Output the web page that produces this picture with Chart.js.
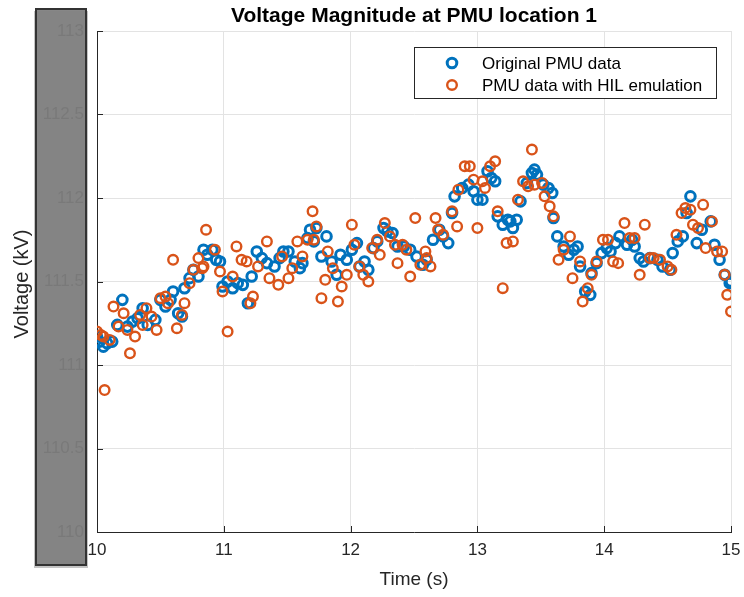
<!DOCTYPE html>
<html>
<head>
<meta charset="utf-8">
<script src="https://cdn.jsdelivr.net/npm/chart.js@4/dist/chart.umd.min.js"></script>
<style>
html,body{margin:0;padding:0;background:#fff;}
#wrap{width:744px;height:597px;}
</style>
</head>
<body>
<div id="wrap"><canvas id="c" width="744" height="597"></canvas></div>
<script>
const chartTitle = "Voltage Magnitude at PMU location 1";
const xAxisTitle = "Time (s)";
const yAxisTitle = "Voltage (kV)";
const seriesNames = ["Original PMU data", "PMU data with HIL emulation"];

const origTime = [10.0,10.02,10.05,10.08,10.12,10.16,10.2,10.24,10.28,10.32,10.36,10.4,10.46,10.5,10.54,10.58,10.6,10.64,10.67,10.69,
10.73,10.76,10.8,10.84,10.87,10.91,10.94,10.97,10.99,11.03,11.07,11.11,11.15,11.19,11.22,11.26,11.3,11.34,11.4,11.44,
11.47,11.51,11.56,11.6,11.62,11.66,11.68,11.71,11.73,11.77,11.81,11.85,11.89,11.92,11.97,12.01,12.05,12.07,12.11,12.14,
12.18,12.21,12.26,12.29,12.33,12.37,12.42,12.47,12.52,12.57,12.6,12.65,12.7,12.73,12.77,12.8,12.82,12.88,12.93,12.97,
13.0,13.04,13.08,13.11,13.14,13.16,13.2,13.24,13.26,13.28,13.31,13.34,13.39,13.43,13.45,13.47,13.52,13.56,13.59,13.6,
13.63,13.68,13.72,13.76,13.79,13.81,13.85,13.89,13.9,13.94,13.98,14.02,14.05,14.09,14.12,14.18,14.22,14.24,14.28,14.31,
14.36,14.42,14.46,14.52,14.54,14.58,14.62,14.65,14.68,14.73,14.77,14.84,14.87,14.91,14.95,14.99,15.0];
const origVoltage = [111.17,111.14,111.11,111.13,111.14,111.24,111.39,111.23,111.26,111.28,111.34,111.24,111.27,111.39,111.35,111.39,111.44,111.31,111.29,111.46,
111.52,111.57,111.53,111.69,111.66,111.69,111.63,111.62,111.47,111.5,111.46,111.49,111.48,111.37,111.53,111.68,111.64,111.61,111.59,111.64,
111.68,111.68,111.62,111.58,111.61,111.76,111.81,111.74,111.82,111.65,111.77,111.62,111.54,111.66,111.63,111.69,111.73,111.59,111.62,111.57,
111.7,111.74,111.82,111.8,111.79,111.71,111.71,111.69,111.65,111.6,111.63,111.75,111.81,111.77,111.73,111.91,112.01,112.06,112.08,112.04,
111.99,111.99,112.16,112.12,112.1,111.89,111.84,111.87,111.86,111.82,111.87,111.98,112.09,112.15,112.17,112.14,112.08,112.06,112.03,111.88,
111.77,111.71,111.66,111.69,111.71,111.59,111.44,111.42,111.55,111.61,111.67,111.7,111.68,111.73,111.77,111.72,111.75,111.71,111.64,111.62,
111.64,111.63,111.59,111.57,111.67,111.74,111.77,111.91,112.01,111.73,111.81,111.86,111.72,111.63,111.54,111.49,111.5];

const hilTime = [10.0,10.03,10.05,10.06,10.1,10.13,10.17,10.21,10.24,10.26,10.3,10.34,10.36,10.39,10.43,10.47,10.5,10.54,10.56,10.6,
10.63,10.67,10.69,10.73,10.76,10.8,10.83,10.84,10.86,10.93,10.97,10.99,11.03,11.07,11.1,11.14,11.18,11.21,11.23,11.27,
11.34,11.36,11.43,11.46,11.51,11.54,11.58,11.62,11.66,11.7,11.71,11.73,11.77,11.8,11.82,11.86,11.9,11.93,11.97,12.01,
12.03,12.07,12.1,12.14,12.17,12.21,12.23,12.27,12.31,12.35,12.37,12.41,12.44,12.47,12.51,12.55,12.59,12.6,12.63,12.67,
12.69,12.73,12.8,12.84,12.85,12.9,12.94,12.97,13.0,13.04,13.06,13.1,13.14,13.16,13.2,13.23,13.28,13.32,13.36,13.4,
13.43,13.45,13.51,13.53,13.57,13.6,13.64,13.68,13.73,13.75,13.81,13.83,13.87,13.9,13.94,13.99,14.03,14.07,14.11,14.16,
14.2,14.24,14.28,14.32,14.36,14.39,14.44,14.5,14.53,14.57,14.61,14.64,14.68,14.7,14.74,14.78,14.8,14.85,14.89,14.93,
14.95,14.97,15.0];
const hilVoltage = [111.2,111.18,111.17,110.85,111.15,111.35,111.23,111.31,111.21,111.07,111.17,111.3,111.24,111.34,111.29,111.21,111.4,111.41,111.37,111.63,
111.22,111.3,111.37,111.49,111.57,111.64,111.58,111.59,111.81,111.69,111.56,111.44,111.2,111.53,111.71,111.63,111.62,111.37,111.41,111.59,
111.74,111.52,111.48,111.65,111.52,111.58,111.74,111.65,111.75,111.92,111.75,111.83,111.4,111.51,111.68,111.58,111.38,111.47,111.54,111.84,
111.72,111.59,111.54,111.5,111.7,111.75,111.66,111.85,111.77,111.72,111.61,111.72,111.69,111.53,111.88,111.6,111.68,111.64,111.59,111.88,
111.81,111.78,111.92,111.83,112.05,112.19,112.19,112.11,111.82,112.1,112.06,112.19,112.22,111.92,111.46,111.73,111.74,111.99,112.1,112.07,
112.29,112.08,112.09,112.01,111.95,111.89,111.63,111.69,111.77,111.52,111.62,111.38,111.46,111.54,111.62,111.75,111.75,111.62,111.61,111.85,
111.76,111.76,111.54,111.84,111.64,111.64,111.63,111.59,111.57,111.78,111.91,111.94,111.93,111.84,111.82,111.96,111.7,111.86,111.68,111.68,
111.54,111.42,111.32];

const xMin = 10, xMax = 15, xStep = 1;
const yMin = 110, yMax = 113, yStep = 0.5;

const blue = "#0072BD", orange = "#D95319";
const FONT = "'Liberation Sans', Arial, Helvetica, sans-serif";

function pts(t, v){ return t.map((x,i)=>({x:x, y:v[i]})); }

const overlay = {
  id: 'overlay',
  beforeDatasetsDraw(chart){
    const ctx = chart.ctx;
    const xs = chart.scales.x, ys = chart.scales.y;
    const a = chart.chartArea;
    ctx.save();
    ctx.strokeStyle = '#262626'; ctx.lineWidth = 1;
    ctx.beginPath();
    xs.ticks.forEach(t=>{ const px = Math.round(xs.getPixelForValue(t.value))+0.5; ctx.moveTo(px, a.bottom); ctx.lineTo(px, a.bottom-6); });
    ys.ticks.forEach(t=>{ const py = Math.round(ys.getPixelForValue(t.value))+0.5; ctx.moveTo(a.left, py); ctx.lineTo(a.left+6, py); });
    ctx.stroke();
    // grey box over y tick labels
    ctx.fillStyle = 'rgba(60,60,60,0.3)';
    ctx.fillRect(34, 11, 54, 557);
    ctx.fillStyle = 'rgba(128,128,128,0.94)';
    ctx.fillRect(36, 9, 50, 556);
    ctx.strokeStyle = '#333333'; ctx.lineWidth = 2;
    ctx.strokeRect(36, 9, 50, 556);
    ctx.restore();
  },
  afterDraw(chart){
    const ctx = chart.ctx;
    const a = chart.chartArea;
    ctx.save();
    ctx.fillStyle = '#000';
    ctx.textAlign = 'center'; ctx.textBaseline = 'middle';
    ctx.font = "bold 21px " + FONT;
    ctx.fillText(chartTitle, (a.left+a.right)/2, 16);
    ctx.fillStyle = '#262626';
    ctx.font = "19px " + FONT;
    ctx.fillText(xAxisTitle, (a.left+a.right)/2, 580);
    ctx.save();
    ctx.translate(22, 284); ctx.rotate(-Math.PI/2);
    ctx.font = "20px " + FONT;
    ctx.fillText(yAxisTitle, 0, 0);
    ctx.restore();
    // legend
    const lx = 414, ly = 47, lw = 302, lh = 51;
    ctx.fillStyle = '#fff'; ctx.fillRect(lx, ly, lw, lh);
    ctx.strokeStyle = '#262626'; ctx.lineWidth = 1;
    ctx.strokeRect(lx+0.5, ly+0.5, lw, lh);
    const rows = [[seriesNames[0], blue, 3, 63],[seriesNames[1], orange, 2.4, 85]];
    rows.forEach(r=>{
      ctx.beginPath(); ctx.strokeStyle = r[1]; ctx.lineWidth = r[2];
      ctx.arc(452, r[3], 4.8, 0, Math.PI*2); ctx.stroke();
      ctx.fillStyle = '#000'; ctx.textAlign = 'left'; ctx.textBaseline='middle';
      ctx.font = "17px " + FONT;
      ctx.fillText(r[0], 482, r[3]+1);
    });
    ctx.restore();
  }
};

new Chart(document.getElementById('c'), {
  type: 'scatter',
  data: {
    datasets: [
      { label: seriesNames[0], data: pts(origTime, origVoltage), borderColor: blue, backgroundColor: 'rgba(0,0,0,0)',
        pointRadius: 4.8, pointBorderWidth: 3, pointStyle: 'circle', showLine: false, order: 1 },
      { label: seriesNames[1], data: pts(hilTime, hilVoltage), borderColor: orange, backgroundColor: 'rgba(0,0,0,0)',
        pointRadius: 4.8, pointBorderWidth: 2.4, pointStyle: 'circle', showLine: false, order: 0 }
    ]
  },
  options: {
    responsive: false, animation: false, devicePixelRatio: 1,
    layout: { padding: { top: 31, right: 13, left: 0, bottom: 0 } },
    plugins: { legend: { display: false }, title: { display: false }, tooltip: { enabled: false } },
    scales: {
      x: { type: 'linear', min: xMin, max: xMax,
        ticks: { stepSize: xStep, font: { size: 17, family: FONT }, color: '#262626', padding: 8, maxRotation: 0 },
        grid: { color: '#e3e3e3', drawTicks: false, lineWidth: 1 },
        border: { color: '#262626', width: 1 },
        afterFit(s){ s.height = 65; s.paddingLeft = 0; s.paddingRight = 0; } },
      y: { type: 'linear', min: yMin, max: yMax,
        ticks: { stepSize: yStep, font: { size: 17, family: FONT }, color: '#000', padding: 13,
          callback: v => String(v) },
        grid: { color: '#e3e3e3', drawTicks: false, lineWidth: 1 },
        border: { color: '#262626', width: 1 },
        afterFit(s){ s.width = 97; s.paddingTop = 0; s.paddingBottom = 0; } }
    }
  },
  plugins: [overlay]
});
</script>
</body>
</html>
